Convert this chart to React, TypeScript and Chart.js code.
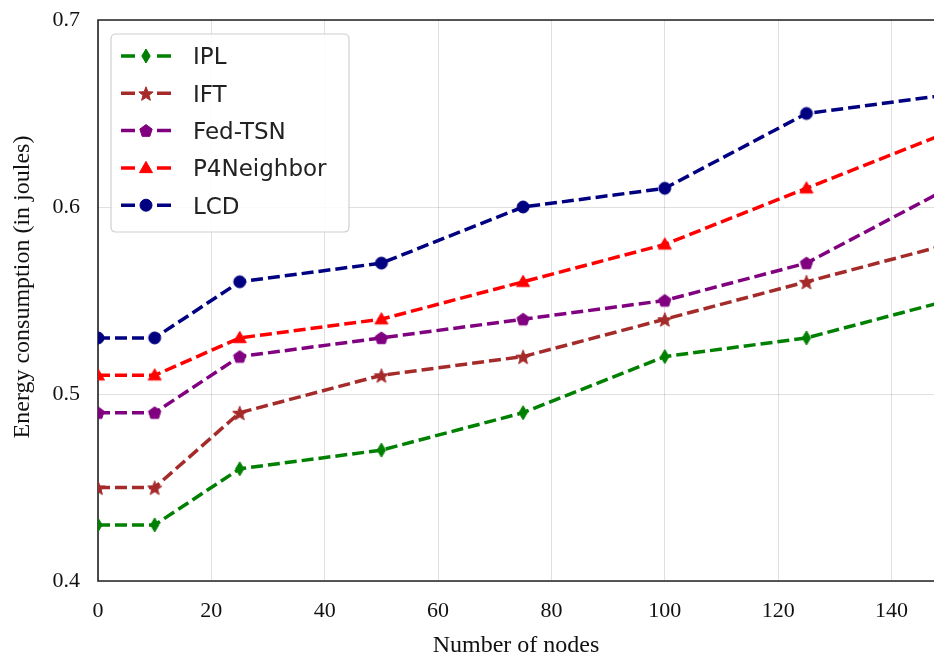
import { useEffect, useRef } from 'react';
import { Chart, registerables } from 'chart.js';
Chart.register(...registerables);

const nodes = [0, 10, 25, 50, 75, 100, 125, 150];
const ipl = [0.43, 0.43, 0.46, 0.47, 0.49, 0.52, 0.53, 0.55];
const ift = [0.45, 0.45, 0.49, 0.51, 0.52, 0.54, 0.56, 0.58];
const fedTsn = [0.49, 0.49, 0.52, 0.53, 0.54, 0.55, 0.57, 0.61];
const p4Neighbor = [0.51, 0.51, 0.53, 0.54, 0.56, 0.58, 0.61, 0.64];
const lcd = [0.53, 0.53, 0.56, 0.57, 0.6, 0.61, 0.65, 0.66];
const seriesNames = ['IPL', 'IFT', 'Fed-TSN', 'P4Neighbor', 'LCD'];
const seriesValues = [ipl, ift, fedTsn, p4Neighbor, lcd];
const seriesColors = ['#008000', '#A52A2A', '#800080', '#FF0000', '#000080'];
const seriesMarkers = ['thin_diamond', 'star', 'pentagon', 'triangle', 'circle'];
const xTickValues = [0, 20, 40, 60, 80, 100, 120, 140];
const yTickValues = [0.4, 0.5, 0.6, 0.7];
const xTitle = 'Number of nodes';
const yTitle = 'Energy consumption (in joules)';

function drawMarker(ctx: CanvasRenderingContext2D, shape: string, x: number, y: number, color: string) {
  ctx.save();
  ctx.fillStyle = color;
  ctx.strokeStyle = color;
  ctx.lineWidth = 1;
  ctx.setLineDash([]);
  ctx.beginPath();
  if (shape === 'circle') {
    ctx.arc(x, y, 6, 0, Math.PI * 2);
  } else if (shape === 'thin_diamond') {
    ctx.moveTo(x, y - 7);
    ctx.lineTo(x + 4.2, y);
    ctx.lineTo(x, y + 7);
    ctx.lineTo(x - 4.2, y);
    ctx.closePath();
  } else if (shape === 'triangle') {
    const r = 7.5;
    for (let i = 0; i < 3; i++) {
      const a = -Math.PI / 2 + (i * 2 * Math.PI) / 3;
      const px = x + r * Math.cos(a);
      const py = y + 1 + r * Math.sin(a);
      if (i === 0) ctx.moveTo(px, py);
      else ctx.lineTo(px, py);
    }
    ctx.closePath();
  } else if (shape === 'pentagon') {
    const r = 6.5;
    for (let i = 0; i < 5; i++) {
      const a = -Math.PI / 2 + (i * 2 * Math.PI) / 5;
      const px = x + r * Math.cos(a);
      const py = y + 0.5 + r * Math.sin(a);
      if (i === 0) ctx.moveTo(px, py);
      else ctx.lineTo(px, py);
    }
    ctx.closePath();
  } else if (shape === 'star') {
    const ro = 7.5;
    const ri = 3.2;
    for (let i = 0; i < 10; i++) {
      const r = i % 2 === 0 ? ro : ri;
      const a = -Math.PI / 2 + (i * Math.PI) / 5;
      const px = x + r * Math.cos(a);
      const py = y + 1 + r * Math.sin(a);
      if (i === 0) ctx.moveTo(px, py);
      else ctx.lineTo(px, py);
    }
    ctx.closePath();
  }
  ctx.fill();
  ctx.stroke();
  ctx.restore();
}

function makeMarkerCanvas(shape: string, color: string) {
  const c = document.createElement('canvas');
  c.width = 20;
  c.height = 20;
  const ctx = c.getContext('2d')!;
  drawMarker(ctx, shape, 10, 10, color);
  return c;
}

const framePlugin = {
  id: 'frame',
  beforeDatasetsDraw(chart: any) {
    const { ctx, chartArea } = chart;
    ctx.save();
    ctx.strokeStyle = '#222';
    ctx.lineWidth = 1.6;
    ctx.beginPath();
    ctx.moveTo(chartArea.right + 2, chartArea.top);
    ctx.lineTo(chartArea.left, chartArea.top);
    ctx.lineTo(chartArea.left, chartArea.bottom);
    ctx.lineTo(chartArea.right + 2, chartArea.bottom);
    ctx.stroke();
    ctx.restore();
  },
};

const overlayPlugin = {
  id: 'overlay',
  afterDraw(chart: any) {
    const { ctx, chartArea } = chart;
    ctx.save();
    const bx = 111, by = 34, bw = 238, bh = 198, r = 5;
    ctx.beginPath();
    ctx.moveTo(bx + r, by);
    ctx.lineTo(bx + bw - r, by);
    ctx.quadraticCurveTo(bx + bw, by, bx + bw, by + r);
    ctx.lineTo(bx + bw, by + bh - r);
    ctx.quadraticCurveTo(bx + bw, by + bh, bx + bw - r, by + bh);
    ctx.lineTo(bx + r, by + bh);
    ctx.quadraticCurveTo(bx, by + bh, bx, by + bh - r);
    ctx.lineTo(bx, by + r);
    ctx.quadraticCurveTo(bx, by, bx + r, by);
    ctx.closePath();
    ctx.fillStyle = 'rgba(255,255,255,0.85)';
    ctx.fill();
    ctx.strokeStyle = '#d0d0d0';
    ctx.lineWidth = 1.2;
    ctx.stroke();

    ctx.font = '23px "DejaVu Sans"';
    ctx.textBaseline = 'alphabetic';
    ctx.textAlign = 'left';
    for (let i = 0; i < seriesNames.length; i++) {
      const cy = 56 + i * 37.3;
      ctx.strokeStyle = seriesColors[i];
      ctx.lineWidth = 3.5;
      ctx.setLineDash([]);
      ctx.beginPath();
      ctx.moveTo(121, cy);
      ctx.lineTo(135, cy);
      ctx.moveTo(157, cy);
      ctx.lineTo(171, cy);
      ctx.stroke();
      drawMarker(ctx, seriesMarkers[i], 146, cy, seriesColors[i]);
      ctx.fillStyle = '#222';
      ctx.fillText(seriesNames[i], 193, cy + 8.4);
    }

    ctx.fillStyle = '#111';
    ctx.font = '24px "Liberation Serif"';
    ctx.textAlign = 'center';
    ctx.textBaseline = 'alphabetic';
    ctx.fillText(xTitle, (chartArea.left + chartArea.right) / 2, 652);
    ctx.translate(29, 287);
    ctx.rotate(-Math.PI / 2);
    ctx.fillText(yTitle, 0, 0);
    ctx.restore();
  },
};

export default function App() {
  const ref = useRef<HTMLCanvasElement>(null);
  useEffect(() => {
    document.body.style.margin = '0';
    const canvas = ref.current!;
    const datasets = seriesNames.map((name, i) => {
      const img = makeMarkerCanvas(seriesMarkers[i], seriesColors[i]);
      return {
        label: name,
        data: nodes.map((n, j) => ({ x: n, y: seriesValues[i][j] })),
        borderColor: seriesColors[i],
        backgroundColor: seriesColors[i],
        borderWidth: 3.5,
        borderDash: [12, 5],
        pointStyle: img as any,
        pointRadius: 6,
        pointHoverRadius: 6,
        tension: 0,
        fill: false,
        clip: 0,
      };
    });
    const chart = new Chart(canvas, {
      type: 'line',
      data: { datasets },
      options: {
        animation: false,
        responsive: false,
        maintainAspectRatio: false,
        layout: { autoPadding: false, padding: { top: 20, right: 0, left: 0, bottom: 0 } },
        plugins: {
          legend: { display: false },
          tooltip: { enabled: false },
        },
        scales: {
          x: {
            type: 'linear',
            min: 0,
            max: 147.5,
            afterBuildTicks: (scale: any) => {
              scale.ticks = xTickValues.map((v) => ({ value: v }));
            },
            afterFit: (scale: any) => {
              scale.height = 73;
              scale.paddingLeft = 0;
              scale.paddingRight = 0;
            },
            ticks: {
              color: '#111',
              font: { family: 'Liberation Serif', size: 22 },
              padding: 17,
              maxRotation: 0,
              autoSkip: false,
              callback: (v: any) => String(v),
            },
            grid: { color: 'rgba(0,0,0,0.12)', lineWidth: 1, drawTicks: false },
            border: { display: false },
          },
          y: {
            type: 'linear',
            min: 0.4,
            max: 0.7,
            afterBuildTicks: (scale: any) => {
              scale.ticks = yTickValues.map((v) => ({ value: v }));
            },
            afterFit: (scale: any) => {
              scale.width = 98;
              scale.paddingTop = 0;
              scale.paddingBottom = 0;
            },
            ticks: {
              color: '#111',
              font: { family: 'Liberation Serif', size: 22 },
              padding: 18,
              callback: (v: any) => Number(v).toFixed(1),
            },
            grid: { color: 'rgba(0,0,0,0.12)', lineWidth: 1, drawTicks: false },
            border: { display: false },
          },
        },
      },
      plugins: [framePlugin, overlayPlugin],
    });
    return () => chart.destroy();
  }, []);
  return (
    <div style={{ width: 934, height: 654 }}>
      <canvas ref={ref} width={934} height={654} style={{ display: 'block' }} />
    </div>
  );
}
